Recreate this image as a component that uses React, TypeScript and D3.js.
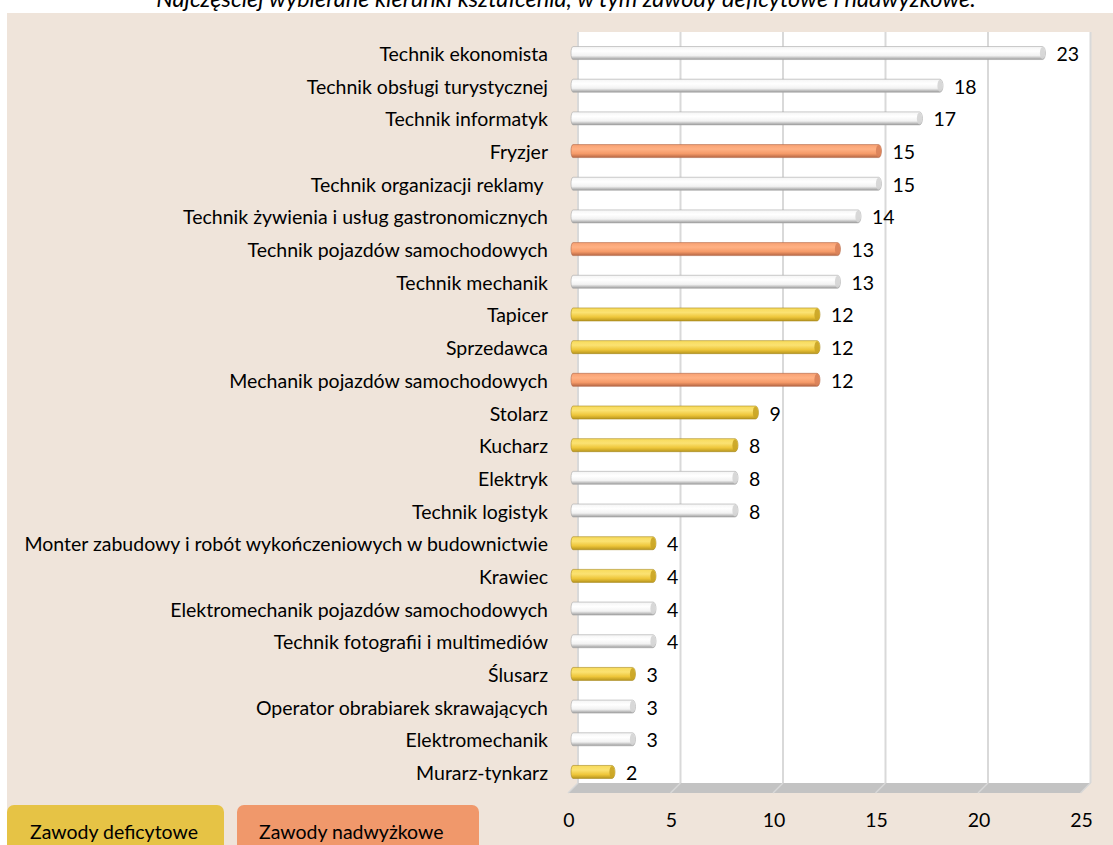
import * as d3 from "d3";

const categories = [
  "Technik ekonomista",
  "Technik obsługi turystycznej",
  "Technik informatyk",
  "Fryzjer",
  "Technik organizacji reklamy ",
  "Technik żywienia i usług gastronomicznych",
  "Technik pojazdów samochodowych",
  "Technik mechanik",
  "Tapicer",
  "Sprzedawca",
  "Mechanik pojazdów samochodowych",
  "Stolarz",
  "Kucharz",
  "Elektryk",
  "Technik logistyk",
  "Monter zabudowy i robót wykończeniowych w budownictwie",
  "Krawiec",
  "Elektromechanik pojazdów samochodowych",
  "Technik fotografii i multimediów",
  "Ślusarz",
  "Operator obrabiarek skrawających",
  "Elektromechanik",
  "Murarz-tynkarz",
];
const values = [23, 18, 17, 15, 15, 14, 13, 13, 12, 12, 12, 9, 8, 8, 8, 4, 4, 4, 4, 3, 3, 3, 2];
// d = deficytowe, n = nadwyżkowe, o = other
const groups = ["o", "o", "o", "n", "o", "o", "n", "o", "d", "d", "n", "d", "d", "o", "o", "d", "d", "o", "o", "d", "o", "o", "d"];
const xTicks = [0, 5, 10, 15, 20, 25];
const legendLabels = ["Zawody deficytowe", "Zawody nadwyżkowe"];
const title = "Najczęściej wybierane kierunki kształcenia, w tym zawody deficytowe i nadwyżkowe.";

const W = 1113,
  H = 845;
const font = "Lato, 'Open Sans', sans-serif";
const fs = 19.5;
const depth = 10;

const fills: any = { d: "url(#gY)", n: "url(#gO)", o: "url(#gW)" };
const caps: any = { d: "#C9A425", n: "#D9825A", o: "#D4D4D4" };
const strokes: any = { d: "#A88A1E", n: "#B0684A", o: "#A8A8A8" };

export default function App() {
  const x = d3.scaleLinear().domain([0, 25]).range([568, 1080.5]);
  const y = d3.scaleBand<string>().domain(categories).range([37.7, 789.3]).padding(0);
  const barH = 13;
  const x0 = x(0) + 3;
  const wallTop = 32,
    wallBottom = 783;

  return (
    <div style={{ position: "absolute", left: 0, top: 0 }}>
      <svg width={W} height={H} style={{ display: "block", fontFamily: font }}>
        <defs>
          <linearGradient id="gY" x1="0" y1="0" x2="0" y2="1">
            <stop offset="0" stopColor="#F7DA5A" />
            <stop offset="0.35" stopColor="#FBE272" />
            <stop offset="0.7" stopColor="#EEC63A" />
            <stop offset="1" stopColor="#B8961F" />
          </linearGradient>
          <linearGradient id="gO" x1="0" y1="0" x2="0" y2="1">
            <stop offset="0" stopColor="#F7A072" />
            <stop offset="0.35" stopColor="#FFB184" />
            <stop offset="0.7" stopColor="#F59A68" />
            <stop offset="1" stopColor="#B56644" />
          </linearGradient>
          <linearGradient id="gW" x1="0" y1="0" x2="0" y2="1">
            <stop offset="0" stopColor="#F4F4F4" />
            <stop offset="0.35" stopColor="#FFFFFF" />
            <stop offset="0.7" stopColor="#F2F2F2" />
            <stop offset="1" stopColor="#9C9C9C" />
          </linearGradient>
        </defs>
        <rect x={0} y={0} width={W} height={H} fill="#FFFFFF" />
        <rect x={7} y={13} width={W - 7} height={H - 13} fill="#EFE4DA" />
        <text x={566} y={7} textAnchor="middle" fontStyle="italic" fontSize={23.5} fill="#000">
          {title}
        </text>

        {/* back wall */}
        <rect x={x(0) + depth} y={wallTop} width={x(25) - x(0)} height={wallBottom - wallTop} fill="#FFFFFF" />
        {xTicks.map((t) => (
          <line key={"g" + t} x1={x(t) + depth} x2={x(t) + depth} y1={wallTop} y2={wallBottom} stroke="#D9D9D9" strokeWidth={2} />
        ))}
        {/* floor */}
        <polygon
          points={`${x(0)},${wallBottom + depth} ${x(25)},${wallBottom + depth} ${x(25) + depth},${wallBottom} ${x(0) + depth},${wallBottom}`}
          fill="#C3C3C3"
        />
        {xTicks.map((t) => (
          <line key={"f" + t} x1={x(t)} x2={x(t) + depth} y1={wallBottom + depth} y2={wallBottom} stroke="#D8D8D8" strokeWidth={1.5} />
        ))}
        {xTicks.map((t) => (
          <text key={"t" + t} x={x(t) + 1} y={827} textAnchor="middle" fontSize={fs} fill="#000">
            {t}
          </text>
        ))}

        {categories.map((c, i) => {
          const cy = (y(c) as number) + y.bandwidth() / 2 - 1;
          const end = x0 + (x(values[i]) - x(0));
          const g = groups[i];
          return (
            <g key={c}>
              <path
                d={`M${x0 + 2},${cy - barH / 2} L${end},${cy - barH / 2} A3,${barH / 2} 0 0 1 ${end},${cy + barH / 2} L${x0 + 2},${cy + barH / 2} A2,${barH / 2} 0 0 1 ${x0 + 2},${cy - barH / 2} Z`}
                fill={fills[g]}
                stroke={strokes[g]}
                strokeWidth={0.6}
              />
              <ellipse cx={end} cy={cy} rx={2.6} ry={barH / 2 - 0.5} fill={caps[g]} opacity={0.9} />
              <text x={end + 14} y={cy + 8} fontSize={fs} fill="#000">
                {values[i]}
              </text>
              <text x={548} y={cy + 8} textAnchor="end" fontSize={fs} fill="#000" style={{ whiteSpace: "pre" }}>
                {c}
              </text>
            </g>
          );
        })}

        {/* legend */}
        <rect x={7} y={805} width={217} height={60} rx={7} fill="#E6C345" />
        <rect x={237} y={805} width={242} height={60} rx={7} fill="#F0986B" />
        <text x={30} y={839} fontSize={fs} fill="#000">
          {legendLabels[0]}
        </text>
        <text x={259} y={839} fontSize={fs} fill="#000">
          {legendLabels[1]}
        </text>
      </svg>
    </div>
  );
}
